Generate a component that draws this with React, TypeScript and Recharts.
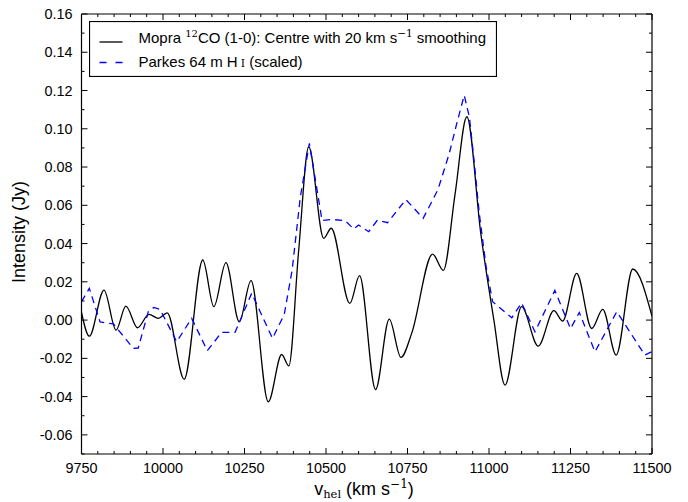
import React from 'react';
import { LineChart, Line, XAxis, YAxis, Legend, Label } from 'recharts';

// Mopra 12CO (1-0) spectrum (km/s, Jy)
const coVelocity = [
  9750, 9774, 9819, 9856, 9886, 9922, 9957, 9986, 10013, 10065, 10122, 10156, 10193, 10234, 10270,
  10323, 10364, 10386, 10416, 10447, 10493, 10516, 10573, 10603, 10652, 10694, 10730, 10763, 10827,
  10860, 10896, 10932, 10975, 11015, 11049, 11100, 11151, 11199, 11226, 11269, 11315, 11349, 11390,
  11441, 11500,
];
const coIntensity = [
  0.004, -0.0084, 0.0157, -0.0052, 0.0073, -0.004, 0.003, 0.0009, 0.0038, -0.0309, 0.0314, 0.007, 0.03,
  -0.0009, 0.0206, -0.0427, -0.018, -0.0239, 0.036, 0.0906, 0.0427, 0.048, 0.0087, 0.0232, -0.0363,
  0.0005, -0.0195, -0.0068, 0.0345, 0.026, 0.066, 0.1063, 0.045, 0.0, -0.034, 0.007, -0.0136, 0.0049,
  -0.0005, 0.0244, -0.0044, 0.0056, -0.0183, 0.0267, 0.002,
];

// Parkes 64 m HI spectrum (scaled)
const hiVelocity = [
  9750, 9774, 9807, 9848, 9909, 9924, 9955, 9972, 9991, 10042, 10088, 10136, 10180, 10221, 10272,
  10336, 10372, 10396, 10421, 10449, 10488, 10518, 10559, 10585, 10600, 10631, 10658, 10689, 10745,
  10798, 10843, 10878, 10900, 10924, 10940, 10955, 10970, 10991, 11011, 11070, 11100, 11141, 11202,
  11250, 11277, 11325, 11392, 11478, 11500,
];
const hiIntensity = [
  0.0096, 0.0166, -0.001, -0.002, -0.0148, -0.0146, 0.0044, 0.0066, 0.0056, -0.0113, 0.0009, -0.016,
  -0.0064, -0.0064, 0.014, -0.0096, 0.003, 0.026, 0.064, 0.0924, 0.052, 0.0526, 0.052, 0.0476, 0.0497,
  0.0462, 0.0523, 0.0509, 0.063, 0.0532, 0.068, 0.087, 0.102, 0.1175, 0.106, 0.082, 0.056, 0.028,
  0.0096, 0.0012, 0.009, -0.0061, 0.0155, -0.0045, 0.004, -0.0166, 0.0044, -0.0183, -0.0165,
];

const xMajorTicks = [9750, 10000, 10250, 10500, 10750, 11000, 11250, 11500];
const xAllTicks = [
  9750, 9800, 9850, 9900, 9950, 10000, 10050, 10100, 10150, 10200, 10250, 10300, 10350, 10400, 10450,
  10500, 10550, 10600, 10650, 10700, 10750, 10800, 10850, 10900, 10950, 11000, 11050, 11100, 11150,
  11200, 11250, 11300, 11350, 11400, 11450, 11500,
];
const yMajorTicks = [-0.06, -0.04, -0.02, 0.0, 0.02, 0.04, 0.06, 0.08, 0.1, 0.12, 0.14, 0.16];
const yAllTicks = [
  -0.07, -0.06, -0.05, -0.04, -0.03, -0.02, -0.01, 0.0, 0.01, 0.02, 0.03, 0.04, 0.05, 0.06, 0.07, 0.08,
  0.09, 0.1, 0.11, 0.12, 0.13, 0.14, 0.15, 0.16,
];

const coData = coVelocity.map((v, k) => ({ v, i: coIntensity[k] }));
const hiData = hiVelocity.map((v, k) => ({ v, i: hiIntensity[k] }));

const FONT = '"Liberation Sans", Arial, Helvetica, sans-serif';
const SERIF = '"DejaVu Serif", "Liberation Serif", serif';
const MAJOR = 6;
const MINOR = 3;

const isMajorX = (v: number) => xMajorTicks.some((t) => Math.abs(t - v) < 1e-6);
const isMajorY = (v: number) => yMajorTicks.some((t) => Math.abs(t - v) < 1e-9);

const BottomTick = (props: any) => {
  const { x, y, payload } = props;
  const major = isMajorX(payload.value);
  return (
    <g>
      <line x1={x} x2={x} y1={y} y2={y - (major ? MAJOR : MINOR)} stroke="#000" strokeWidth={1} />
      {major && (
        <text x={x} y={y + 14} textAnchor="middle" dominantBaseline="central" fontSize={14.4} fontFamily={FONT} fill="#000">
          {payload.value}
        </text>
      )}
    </g>
  );
};

const TopTick = (props: any) => {
  const { x, y, payload } = props;
  const major = isMajorX(payload.value);
  return <line x1={x} x2={x} y1={y} y2={y + (major ? MAJOR : MINOR)} stroke="#000" strokeWidth={1} />;
};

const LeftTick = (props: any) => {
  const { x, y, payload } = props;
  const major = isMajorY(payload.value);
  return (
    <g>
      <line x1={x} x2={x + (major ? MAJOR : MINOR)} y1={y} y2={y} stroke="#000" strokeWidth={1} />
      {major && (
        <text x={x - 9} y={y} textAnchor="end" dominantBaseline="central" fontSize={14.4} fontFamily={FONT} fill="#000">
          {Number(payload.value).toFixed(2)}
        </text>
      )}
    </g>
  );
};

const RightTick = (props: any) => {
  const { x, y, payload } = props;
  const major = isMajorY(payload.value);
  return <line x1={x} x2={x - (major ? MAJOR : MINOR)} y1={y} y2={y} stroke="#000" strokeWidth={1} />;
};

const LegendBox = () => (
  <svg width={408} height={56} style={{ display: 'block' }}>
    <rect x={0.5} y={0.5} width={407} height={55} fill="#fff" stroke="#000" strokeWidth={1.2} />
    <line x1={10.5} x2={33.5} y1={21} y2={21} stroke="#000" strokeWidth={1.3} />
    <text x={49.5} y={22} fontSize={15} fontFamily={FONT} fill="#000">
      Mopra{' '}
      <tspan fontFamily={SERIF} fontSize={10} dy={-6}>
        12
      </tspan>
      <tspan dy={6}>CO (1-0): Centre with 20 km s</tspan>
      <tspan fontFamily={SERIF} fontSize={10.5} dy={-6}>
        −1
      </tspan>
      <tspan dy={6}> smoothing</tspan>
    </text>
    <line x1={10.5} x2={33.5} y1={41.5} y2={41.5} stroke="#0000ff" strokeWidth={1.3} strokeDasharray="7 9" />
    <text x={49.5} y={46} fontSize={15} fontFamily={FONT} fill="#000">
      Parkes 64 m H
      <tspan fontFamily={SERIF} fontSize={11} dx={3}>
        I
      </tspan>
      <tspan> (scaled)</tspan>
    </text>
  </svg>
);

const YTitle = () => (
  <text transform="translate(25,232) rotate(-90)" textAnchor="middle" fontSize={18} fontFamily={FONT} fill="#000">
    Intensity (Jy)
  </text>
);

const XTitle = () => (
  <text x={364} y={495} textAnchor="middle" fontSize={18} fontFamily={FONT} fill="#000">
    v
    <tspan fontFamily={SERIF} fontSize={11.5} dy={3}>
      hel
    </tspan>
    <tspan dy={-3}> (km s</tspan>
    <tspan fontFamily={SERIF} fontSize={12} dy={-7}>
      −1
    </tspan>
    <tspan dy={7}>)</tspan>
  </text>
);

export default function App() {
  return (
    <div style={{ position: 'absolute', left: 0, top: 0, width: 688, height: 502, background: '#fff' }}>
      <LineChart width={688} height={502} margin={{ top: 0, right: 0, bottom: 0, left: 0 }}>
        <XAxis
          xAxisId={0}
          dataKey="v"
          type="number"
          domain={[9750, 11500]}
          allowDataOverflow
          ticks={xAllTicks}
          interval={0}
          height={48}
          tickSize={0}
          tickMargin={0}
          tickLine={false}
          tick={BottomTick}
          axisLine={{ stroke: '#000', strokeWidth: 1.2 }}
        >
          <Label content={XTitle} />
        </XAxis>
        <XAxis
          xAxisId="top"
          orientation="top"
          dataKey="v"
          type="number"
          domain={[9750, 11500]}
          allowDataOverflow
          ticks={xAllTicks}
          interval={0}
          height={14}
          tickSize={0}
          tickMargin={0}
          tickLine={false}
          tick={TopTick}
          axisLine={{ stroke: '#000', strokeWidth: 1.2 }}
        />
        <YAxis
          yAxisId={0}
          type="number"
          domain={[-0.07, 0.16]}
          allowDataOverflow
          ticks={yAllTicks}
          interval={0}
          width={81.5}
          tickSize={0}
          tickMargin={0}
          tickLine={false}
          tick={LeftTick}
          axisLine={{ stroke: '#000', strokeWidth: 1.2 }}
        >
          <Label content={YTitle} />
        </YAxis>
        <YAxis
          yAxisId="right"
          orientation="right"
          type="number"
          domain={[-0.07, 0.16]}
          allowDataOverflow
          ticks={yAllTicks}
          interval={0}
          width={36}
          tickSize={0}
          tickMargin={0}
          tickLine={false}
          tick={RightTick}
          axisLine={{ stroke: '#000', strokeWidth: 1.2 }}
        />
        <Line
          data={coData}
          dataKey="i"
          type="monotone"
          stroke="#000"
          strokeWidth={1.3}
          dot={false}
          activeDot={false}
          isAnimationActive={false}
        />
        <Line
          data={hiData}
          dataKey="i"
          type="linear"
          stroke="#0000ff"
          strokeWidth={1.3}
          strokeDasharray="7 5"
          dot={false}
          activeDot={false}
          isAnimationActive={false}
        />
        <Legend
          layout="vertical"
          verticalAlign="middle"
          align="center"
          wrapperStyle={{ left: 88.7, top: 20.7, width: 408, height: 56 }}
          content={LegendBox}
        />
      </LineChart>
    </div>
  );
}
